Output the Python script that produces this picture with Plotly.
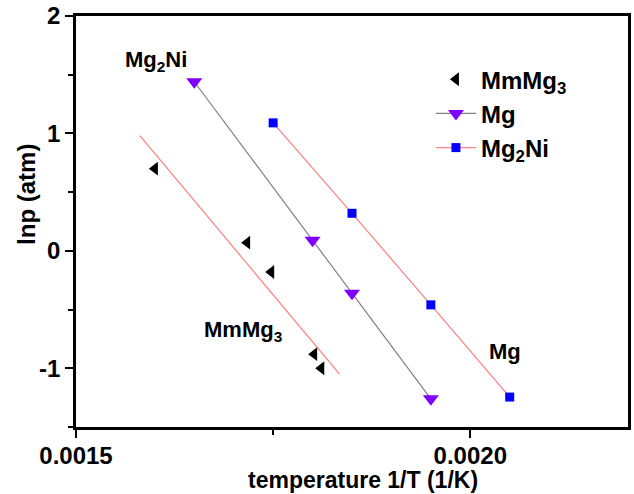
import numpy as np
import plotly.graph_objects as go

# ---- data ----
mmmg3_x = [0.00160, 0.001717, 0.0017475, 0.001802, 0.001811]
mmmg3_y = [0.70, 0.07, -0.18, -0.88, -1.00]

mg_x = [0.00165, 0.00180, 0.00185, 0.00195]
mg_y = [1.44, 0.09, -0.36, -1.26]

mg2ni_x = [0.00175, 0.00185, 0.00195, 0.00205]
mg2ni_y = [1.09, 0.32, -0.46, -1.245]

fit_x_range = [0.001581, 0.001834]   # span of the linear fit for MmMg3

x_ticks = [0.0015, 0.0020]
x_tick_labels = ["0.0015", "0.0020"]
y_ticks = [-1, 0, 1, 2]
y_tick_labels = ["-1", "0", "1", "2"]

# linear fit for MmMg3
slope, intercept = np.polyfit(mmmg3_x, mmmg3_y, 1)
fit_x = np.array(fit_x_range)
fit_y = slope * fit_x + intercept

FONT = "Liberation Sans, Arial, sans-serif"

fig = go.Figure()
fig.add_trace(go.Scatter(
    x=fit_x, y=fit_y, mode="lines", showlegend=False,
    line=dict(color="#ff7f7f", width=1.2)))
fig.add_trace(go.Scatter(
    x=mmmg3_x, y=mmmg3_y, mode="markers", name="MmMg<sub>3</sub>",
    marker=dict(symbol="triangle-left", size=12, color="black")))
fig.add_trace(go.Scatter(
    x=mg_x, y=mg_y, mode="lines+markers", name="Mg",
    line=dict(color="#808080", width=1.2),
    marker=dict(symbol="triangle-down", size=14, color="#8000ff")))
fig.add_trace(go.Scatter(
    x=mg2ni_x, y=mg2ni_y, mode="lines+markers", name="Mg<sub>2</sub>Ni",
    line=dict(color="#ff7f7f", width=1.2),
    marker=dict(symbol="square", size=9, color="#0000ff")))

ann_font = dict(family=FONT, size=22, color="black", weight="bold")
fig.add_annotation(x=0.0016015, y=1.62, text="Mg<sub>2</sub>Ni", showarrow=False,
                   font=ann_font, xanchor="center", yanchor="middle")
fig.add_annotation(x=0.001712, y=-0.68, text="MmMg<sub>3</sub>", showarrow=False,
                   font=ann_font, xanchor="center", yanchor="middle")
fig.add_annotation(x=0.0020444, y=-0.86, text="Mg", showarrow=False,
                   font=ann_font, xanchor="center", yanchor="middle")

title_font = dict(family=FONT, size=23, color="black", weight="bold")
# axis titles placed as paper annotations to match the reference placement
fig.add_annotation(xref="paper", yref="paper", x=0.52, y=-0.129,
                   text="temperature 1/T (1/K)", showarrow=False,
                   font=title_font, xanchor="center", yanchor="middle")
fig.add_annotation(xref="paper", yref="paper", x=-0.0888, y=0.567,
                   text="lnp (atm)", showarrow=False, textangle=-90,
                   font=dict(family=FONT, size=24, color="black", weight="bold"),
                   xanchor="center", yanchor="middle")

axis_common = dict(
    showline=True, linecolor="black", linewidth=2.5, mirror=True,
    showgrid=False, zeroline=False, ticks="outside", ticklen=8,
    tickwidth=2, tickcolor="black", automargin=False,
    tickfont=dict(family=FONT, size=24, color="black", weight="bold"),
)

fig.update_xaxes(
    range=[0.0015, 0.0022], tickmode="array", tickvals=x_ticks,
    ticktext=x_tick_labels, ticklabelstandoff=-3,
    minor=dict(tickvals=[0.00175], ticks="outside", ticklen=5, tickwidth=2,
               tickcolor="black"),
    **axis_common)
fig.update_yaxes(
    range=[-1.5, 2], tickmode="array", tickvals=y_ticks,
    ticktext=y_tick_labels,
    minor=dict(tickvals=[-1.5, -0.5, 0.5, 1.5], ticks="outside", ticklen=5,
               tickwidth=2, tickcolor="black"),
    **axis_common)

fig.update_layout(
    width=634, height=494,
    margin=dict(l=76, r=6, t=16, b=67),
    paper_bgcolor="white", plot_bgcolor="white",
    legend=dict(x=0.643, y=0.9, xanchor="left", yanchor="top",
                bgcolor="rgba(0,0,0,0)", borderwidth=0,
                font=dict(family=FONT, size=24, color="black", weight="bold"),
                itemwidth=40, tracegroupgap=0),
)

fig.write_html("out.html", config={"displayModeBar": False},
               post_script="document.body.style.margin='0';")
